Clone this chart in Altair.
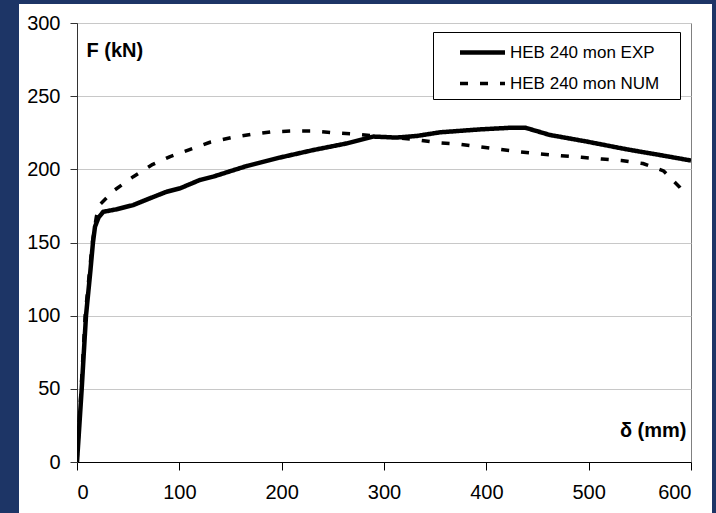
import altair as alt
import pandas as pd

# Experimental curve (solid)
delta_exp = [0, 4.6, 8.8, 13, 15.6, 17.6, 21, 25.7, 38.8, 55, 71.3, 87.6, 100.6, 120, 133,
             166, 198, 231, 263.5, 289.6, 312, 332, 354.7, 393.8, 426, 437.8, 462, 498, 537, 576, 600]
force_exp = [0, 50, 100, 130, 150, 160.8, 167, 171, 172.7, 175.6, 180.2, 184.7, 187, 192.7, 195,
             202.3, 208, 213.2, 217.7, 222.4, 221.7, 222.8, 225.3, 227.3, 228.5, 228.5, 223.5, 219, 213.7, 209, 206]

# Numerical curve (dashed)
delta_num = [0, 8, 15, 19, 22.5, 37, 55, 73, 91, 110, 130, 151, 171, 191, 211, 231, 251, 272, 290,
             329, 353, 372, 392, 413, 432, 452, 473, 493, 513, 532, 553, 573, 589, 593]
force_num = [0, 100, 150, 168, 176, 186, 195, 203, 208.7, 213.5, 218.5, 221.7, 224, 225.7, 226.2,
             226.2, 225, 224.1, 222.8, 220.5, 218.2, 217.3, 215.5, 213.7, 212, 210.5, 209.3, 208.2,
             207, 206, 204, 199, 187.7, 184]

series_names = ["HEB 240 mon EXP", "HEB 240 mon NUM"]
x_ticks = [0, 100, 200, 300, 400, 500, 600]
y_ticks = [0, 50, 100, 150, 200, 250, 300]

rows = []
for i, (d, f) in enumerate(zip(delta_exp, force_exp)):
    rows.append({"delta": d, "F": f, "series": series_names[0], "order": i})
for i, (d, f) in enumerate(zip(delta_num, force_num)):
    rows.append({"delta": d, "F": f, "series": series_names[1], "order": i})
df = pd.DataFrame(rows)

FONT = "Liberation Sans"
NAVY = "#1d3566"

lines = alt.Chart(df).mark_line(clip=True, strokeJoin="round").encode(
    x=alt.X("delta:Q",
            scale=alt.Scale(domain=[0, 600], nice=False),
            axis=alt.Axis(values=x_ticks, title="δ (mm)", grid=False,
                          titleAngle=0, titleX=609, titleY=-32,
                          titleAlign="right", titleBaseline="middle",
                          titleFontSize=20, titleFontWeight="bold",
                          tickSize=8, labelPadding=12, domainColor="#000000",
                          tickColor="#000000")),
    y=alt.Y("F:Q",
            scale=alt.Scale(domain=[0, 300], nice=False),
            axis=alt.Axis(values=y_ticks, title="F (kN)", grid=True,
                          titleAngle=0, titleX=9, titleY=27,
                          titleAlign="left", titleBaseline="middle",
                          titleFontSize=20, titleFontWeight="bold",
                          tickSize=7, labelPadding=10, domainColor="#333333",
                          tickColor="#333333")),
    order="order:Q",
    strokeDash=alt.StrokeDash("series:N",
        scale=alt.Scale(domain=series_names, range=[[1, 0], [8, 12]]),
        legend=alt.Legend(orient="none", legendX=356, legendY=9, title=" ",
                          titleOrient="right", titlePadding=14,
                          strokeColor="#000000", fillColor="#ffffff",
                          padding=7, symbolOffset=29,
                          symbolType="M-2,0H2",
                          symbolSize=506, symbolStrokeWidth=4,
                          symbolStrokeColor="#000000",
                          labelFontSize=17, labelFont=FONT, labelColor="#000000",
                          labelOffset=14, rowPadding=8.5, labelLimit=300)),
    strokeWidth=alt.StrokeWidth("series:N",
        scale=alt.Scale(domain=series_names, range=[4.5, 3.5]), legend=None),
    color=alt.value("#000000"),
)

# slide background strips around the white chart area
frame_left = alt.Chart(df).mark_rect(color=NAVY).encode(
    x=alt.value(-77), x2=alt.value(-58), y=alt.value(-23), y2=alt.value(490))
frame_top = alt.Chart(df).mark_rect(color=NAVY).encode(
    x=alt.value(-77), x2=alt.value(639), y=alt.value(-23), y2=alt.value(-19))
frame_right = alt.Chart(df).mark_rect(color=NAVY).encode(
    x=alt.value(635), x2=alt.value(639), y=alt.value(-23), y2=alt.value(490))

chart = alt.layer(frame_left, frame_top, frame_right, lines).properties(
    width=614, height=439,
    autosize=alt.AutoSizeParams(type="none"),
    padding={"left": 77, "top": 23, "right": 25, "bottom": 51},
).configure(background="#ffffff").configure_view(
    stroke="#808080", strokeWidth=1
).configure_axis(
    labelFont=FONT, labelFontSize=20, labelColor="#000000",
    titleFont=FONT, titleColor="#000000",
    gridColor="#c8c8c8", gridWidth=1, domainWidth=1, tickWidth=1,
)

chart.save("out.html", embed_options={"renderer": "svg", "actions": False})
